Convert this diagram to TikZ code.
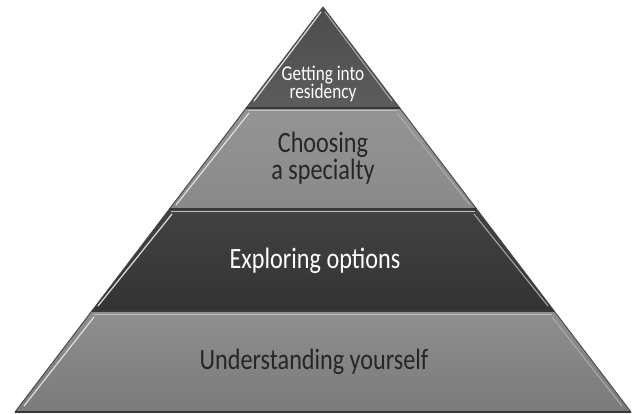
\documentclass[tikz,border=0pt]{standalone}
\usepackage{fontspec}
\newfontfamily\pyrfont[FakeStretch=0.82]{Carlito}
\begin{document}
\begin{tikzpicture}[x=1pt,y=-1pt,
  layer/.style={draw=black!72, line width=0.9pt, line join=round},
  hilite/.style={draw=white!75!gray, line width=1.2pt, line cap=round},
  rhilite/.style={draw=white!35!gray, line width=1pt, line cap=round},
  sep/.style={draw=black!78, line width=1.8pt},
  toplight/.style={draw=white!50!gray, line width=1pt},
  bigtext/.style={font=\pyrfont\fontsize{29.5}{24}\selectfont, align=center, inner sep=0pt},
  smalltext/.style={font=\pyrfont\fontsize{21}{18.5}\selectfont, align=center, inner sep=0pt, text=white}
]
\useasboundingbox[fill=white] (0,0) rectangle (637,414);
% corner coordinates
\coordinate (apex) at (323,7);
\coordinate (l1) at (246.2,108); \coordinate (r1) at (399.8,108);
\coordinate (l2) at (169.4,209); \coordinate (r2) at (476.6,209);
\coordinate (l3) at (91.8,311);  \coordinate (r3) at (554.2,311);
\coordinate (l4) at (15,412);    \coordinate (r4) at (631,412);
% layers
\path[layer, top color=black!70, bottom color=black!64] (apex) -- (r1) -- (l1) -- cycle;
\path[layer, top color=black!42, bottom color=black!46] (l1) -- (r1) -- (r2) -- (l2) -- cycle;
\path[layer, top color=black!74, bottom color=black!80] (l2) -- (r2) -- (r3) -- (l3) -- cycle;
\path[layer, top color=black!44, bottom color=black!52] (l3) -- (r3) -- (r4) -- (l4) -- cycle;
% separators
\draw[sep] (l1) -- (r1);
\draw[sep] (l2) -- (r2);
\draw[sep] (l3) -- (r3);
\draw[sep] (l4) -- (r4);
% light top lines of the lower layers
\draw[toplight] (248,111) -- (398,111);
\draw[toplight] (171,212) -- (475,212);
\draw[toplight] (94,314) -- (552,314);
% left highlights
\draw[hilite] (321,12) -- (254,101);
\draw[hilite] (249,113) -- (176,205);
\draw[hilite] (172,214) -- (98,306);
\draw[hilite] (94,317) -- (24,406);
% right highlights
\draw[rhilite] (325,12) -- (392,101);
\draw[rhilite] (397,113) -- (470,205);
\draw[rhilite] (474,214) -- (548,306);
\draw[rhilite] (552,317) -- (622,406);
% texts
\node[smalltext] (t1) at (323,84) {Getting into\\residency};
\node[bigtext, text=black!85] (t2) at (323,158) {Choosing\\a specialty};
\node[bigtext, text=white] (t3) at (315,261) {Exploring options};
\node[bigtext, text=black!85] (t4) at (314,362) {Understanding yourself};
\end{tikzpicture}
\end{document}
